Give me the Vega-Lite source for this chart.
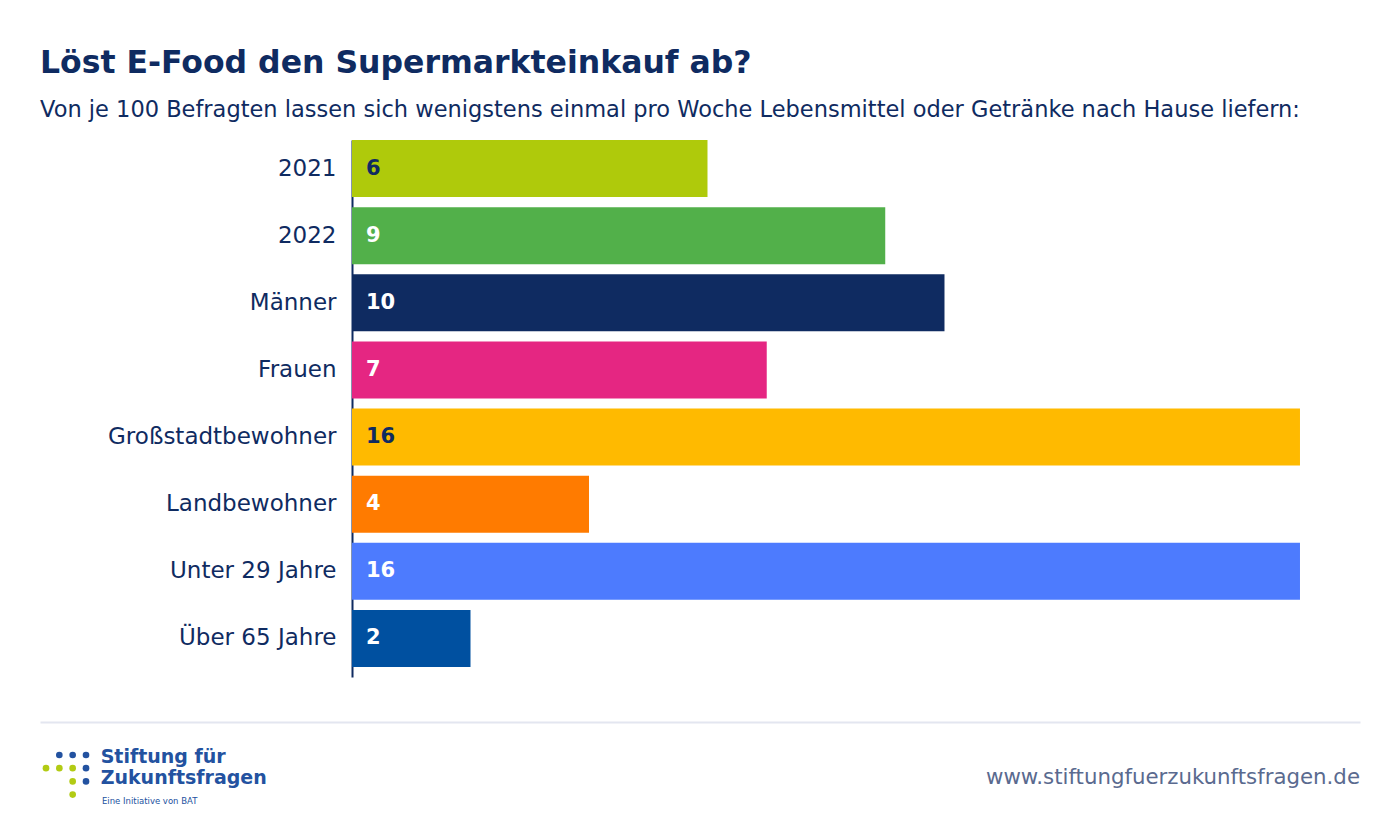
{
  "$schema": "https://vega.github.io/schema/vega-lite/v6.json",
  "background": "white",
  "padding": {"left": 40, "top": 48, "right": 40, "bottom": 10},
  "title": {
    "text": "Löst E-Food den Supermarkteinkauf ab?",
    "subtitle": "Von je 100 Befragten lassen sich wenigstens einmal pro Woche Lebensmittel oder Getränke nach Hause liefern:",
    "anchor": "start",
    "font": "DejaVu Sans",
    "fontSize": 31.5,
    "fontWeight": "bold",
    "color": "#0f2b61",
    "subtitleFont": "DejaVu Sans",
    "subtitleFontSize": 22.5,
    "subtitleColor": "#0f2b61",
    "subtitlePadding": 19,
    "offset": 19
  },
  "spacing": 45,
  "resolve": {"scale": {"color": "independent", "x": "independent", "y": "independent"}},
  "config": {"view": {"stroke": null}},
  "vconcat": [
    {
      "width": 1320,
      "height": 537,
      "data": {
        "values": [
          {"gruppe": "2021", "wert": 6},
          {"gruppe": "2022", "wert": 9},
          {"gruppe": "Männer", "wert": 10},
          {"gruppe": "Frauen", "wert": 7},
          {"gruppe": "Großstadtbewohner", "wert": 16},
          {"gruppe": "Landbewohner", "wert": 4},
          {"gruppe": "Unter 29 Jahre", "wert": 16},
          {"gruppe": "Über 65 Jahre", "wert": 2}
        ]
      },
      "encoding": {
        "y": {
          "field": "gruppe",
          "type": "nominal",
          "sort": null,
          "scale": {"paddingInner": 0.15, "paddingOuter": 0.075, "align": 0},
          "axis": {
            "title": null,
            "ticks": false,
            "grid": false,
            "offset": -312,
            "domainColor": "#0f2b61",
            "domainWidth": 2,
            "labelFont": "DejaVu Sans",
            "labelFontSize": 23,
            "labelColor": "#0f2b61",
            "labelPadding": 16,
            "labelLimit": 300
          }
        },
        "x": {
          "field": "wert",
          "type": "quantitative",
          "scale": {"domain": [-5.266, 17.013], "nice": false, "zero": false},
          "axis": null
        }
      },
      "layer": [
        {
          "mark": {"type": "bar"},
          "encoding": {
            "x2": {"datum": 0},
            "color": {
              "field": "gruppe",
              "type": "nominal",
              "legend": null,
              "scale": {
                "domain": ["2021", "2022", "Männer", "Frauen", "Großstadtbewohner", "Landbewohner", "Unter 29 Jahre", "Über 65 Jahre"],
                "range": ["#afca0b", "#52b04a", "#0f2b61", "#e52682", "#ffba00", "#ff7b00", "#4d7bfe", "#0050a0"]
              }
            }
          }
        },
        {
          "mark": {
            "type": "text",
            "align": "left",
            "baseline": "middle",
            "dx": 14,
            "font": "DejaVu Sans",
            "fontSize": 21,
            "fontWeight": "bold"
          },
          "encoding": {
            "x": {"datum": 0},
            "text": {"field": "wert", "type": "quantitative"},
            "color": {
              "condition": {
                "test": "datum.gruppe === '2021' || datum.gruppe === 'Großstadtbewohner'",
                "value": "#0f2b61"
              },
              "value": "white"
            }
          }
        }
      ]
    },
    {
      "width": 1320,
      "height": 90,
      "layer": [
        {
          "data": {
            "values": [
              {"spalte": 1, "zeile": 0, "farbe": "blau"},
              {"spalte": 2, "zeile": 0, "farbe": "blau"},
              {"spalte": 3, "zeile": 0, "farbe": "blau"},
              {"spalte": 0, "zeile": 1, "farbe": "grün"},
              {"spalte": 1, "zeile": 1, "farbe": "grün"},
              {"spalte": 2, "zeile": 1, "farbe": "grün"},
              {"spalte": 3, "zeile": 1, "farbe": "blau"},
              {"spalte": 2, "zeile": 2, "farbe": "grün"},
              {"spalte": 3, "zeile": 2, "farbe": "blau"},
              {"spalte": 2, "zeile": 3, "farbe": "grün"}
            ]
          },
          "mark": {"type": "circle", "size": 44, "opacity": 1},
          "encoding": {
            "x": {
              "field": "spalte",
              "type": "quantitative",
              "scale": {"domain": [-0.45, 98.55], "nice": false, "zero": false},
              "axis": {
                "orient": "top",
                "labels": false,
                "ticks": false,
                "grid": false,
                "title": null,
                "domainColor": "#e3e6f0",
                "domainWidth": 2
              }
            },
            "y": {
              "field": "zeile",
              "type": "quantitative",
              "scale": {"domain": [-2.5, 4.32], "nice": false, "zero": false, "reverse": true},
              "axis": null
            },
            "color": {
              "field": "farbe",
              "type": "nominal",
              "legend": null,
              "scale": {"domain": ["blau", "grün"], "range": ["#2352a0", "#b2cb14"]}
            }
          }
        },
        {
          "data": {"values": [{"name": "Stiftung für"}]},
          "mark": {"type": "text", "align": "left", "baseline": "alphabetic", "font": "DejaVu Sans", "fontSize": 19, "fontWeight": "bold", "color": "#2352a0"},
          "encoding": {
            "text": {"field": "name"},
            "x": {"datum": 4.1},
            "y": {"datum": 0.61}
          }
        },
        {
          "data": {"values": [{"name": "Zukunftsfragen"}]},
          "mark": {"type": "text", "align": "left", "baseline": "alphabetic", "font": "DejaVu Sans", "fontSize": 19, "fontWeight": "bold", "color": "#2352a0"},
          "encoding": {
            "text": {"field": "name"},
            "x": {"datum": 4.1},
            "y": {"datum": 2.2}
          }
        },
        {
          "data": {"values": [{"name": "Eine Initiative von BAT"}]},
          "mark": {"type": "text", "align": "left", "baseline": "alphabetic", "font": "DejaVu Sans", "fontSize": 8.5, "color": "#2352a0"},
          "encoding": {
            "text": {"field": "name"},
            "x": {"datum": 4.2},
            "y": {"datum": 3.71}
          }
        },
        {
          "data": {"values": [{"name": "www.stiftungfuerzukunftsfragen.de"}]},
          "mark": {"type": "text", "align": "right", "baseline": "alphabetic", "font": "DejaVu Sans", "fontSize": 21.3, "color": "#5a6a8f"},
          "encoding": {
            "text": {"field": "name"},
            "x": {"datum": 98.55},
            "y": {"datum": 2.2}
          }
        }
      ]
    }
  ]
}
